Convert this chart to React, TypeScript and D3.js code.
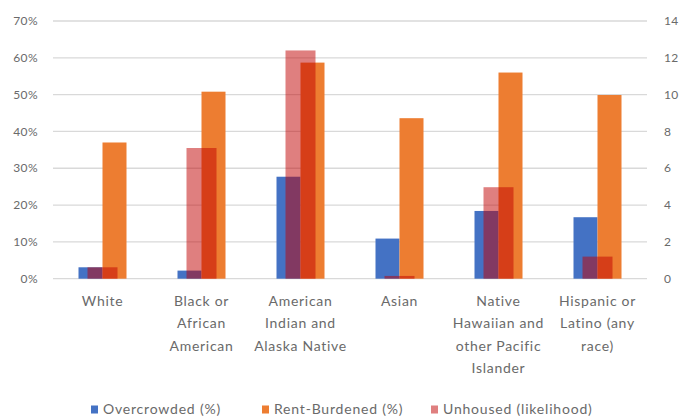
import React from 'react';
import * as d3 from 'd3';

const categories = [
  'White',
  'Black or African American',
  'American Indian and Alaska Native',
  'Asian',
  'Native Hawaiian and other Pacific Islander',
  'Hispanic or Latino (any race)',
];
// wrapped tick labels, as drawn under the axis
const categoryLines = [
  ['White'],
  ['Black or', 'African', 'American'],
  ['American', 'Indian and', 'Alaska Native'],
  ['Asian'],
  ['Native', 'Hawaiian and', 'other Pacific', 'Islander'],
  ['Hispanic or', 'Latino (any', 'race)'],
];
const overcrowded = [3.1, 2.2, 27.7, 10.9, 18.4, 16.7];
const rentBurdened = [37.0, 50.8, 58.7, 43.6, 56.0, 49.9];
const unhoused = [0.62, 7.1, 12.4, 0.15, 4.97, 1.2];
const leftTicks = [0, 10, 20, 30, 40, 50, 60, 70];
const rightTicks = [0, 2, 4, 6, 8, 10, 12, 14];
const legendLabels = ['Overcrowded (%)', 'Rent-Burdened (%)', 'Unhoused (likelihood)'];

const W = 681;
const H = 419;
const margin = { top: 21, right: 34, bottom: 140.3, left: 53 };
const FONT = 'Lato, "Open Sans", sans-serif';
const TEXT = '#6a6a6a';

export default function App() {
  const x = d3.scaleBand<string>()
    .domain(categories)
    .range([margin.left, W - margin.right]);
  const yLeft = d3.scaleLinear().domain([0, 70]).range([H - margin.bottom, margin.top]);
  const yRight = d3.scaleLinear().domain([0, 14]).range([H - margin.bottom, margin.top]);

  // two primary series side by side, unhoused on secondary axis centred over them
  const inner = d3.scaleBand<string>().domain(['over', 'rent']).range([-24, 24]);
  const pinkW = 30;
  const colors = { over: '#4472C4', rent: '#ED7D31', unhoused: 'rgba(192,0,0,0.5)' };

  const legendX = [91, 262, 431];
  const legendColors = [colors.over, colors.rent, '#df7f7f'];

  return (
    <svg width={W} height={H} style={{ position: 'absolute', left: 0, top: 0, background: '#fff' }}
      fontFamily={FONT}>
      {leftTicks.map(t => (
        <line key={t} x1={margin.left} x2={W - margin.right} y1={yLeft(t)} y2={yLeft(t)}
          stroke="#d9d9d9" strokeWidth={1.3} />
      ))}
      {leftTicks.map(t => (
        <text key={'l' + t} x={38} y={yLeft(t)} dy="0.35em" textAnchor="end" fontSize={12}
          letterSpacing={0.4} fill={TEXT}>
          {t + '%'}
        </text>
      ))}
      {rightTicks.map(t => (
        <text key={'r' + t} x={664} y={yRight(t)} dy="0.35em" textAnchor="start" fontSize={12}
          letterSpacing={0.4} fill={TEXT}>
          {t}
        </text>
      ))}

      {categories.map((c, i) => {
        const cx = (x(c) as number) + x.bandwidth() / 2;
        return (
          <g key={c}>
            <rect x={cx + (inner('over') as number)} width={inner.bandwidth()}
              y={yLeft(overcrowded[i])} height={yLeft(0) - yLeft(overcrowded[i])} fill={colors.over} />
            <rect x={cx + (inner('rent') as number)} width={inner.bandwidth()}
              y={yLeft(rentBurdened[i])} height={yLeft(0) - yLeft(rentBurdened[i])} fill={colors.rent} />
            <rect x={cx - pinkW / 2} width={pinkW}
              y={yRight(unhoused[i])} height={yRight(0) - yRight(unhoused[i])} fill={colors.unhoused} />
          </g>
        );
      })}

      {categories.map((c, i) => {
        const cx = (x(c) as number) + x.bandwidth() / 2;
        return (
          <text key={'c' + c} x={cx} y={305.8} textAnchor="middle" fontSize={14}
            letterSpacing={0.7} fill={TEXT}>
            {categoryLines[i].map((ln, j) => (
              <tspan key={j} x={cx} dy={j === 0 ? 0 : 22.4}>{ln}</tspan>
            ))}
          </text>
        );
      })}

      {legendLabels.map((l, i) => (
        <g key={l}>
          <rect x={legendX[i]} y={405.5} width={7} height={8} fill={legendColors[i]} />
          <text x={legendX[i] + 12} y={409.5} dy="0.35em" fontSize={14} letterSpacing={0.8}
            fill={TEXT}>{l}</text>
        </g>
      ))}
    </svg>
  );
}
